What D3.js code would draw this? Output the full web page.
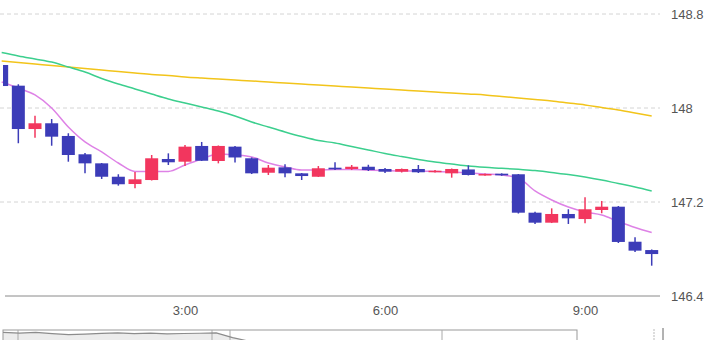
<!DOCTYPE html>
<html>
<head>
<meta charset="utf-8">
<script src="https://cdn.jsdelivr.net/npm/d3@7"></script>
<style>
  body { margin: 0; background: #fff; }
  svg { display: block; font-family: "Liberation Sans", Arial, sans-serif; }
</style>
</head>
<body>
<script>
// Chart dimension
const width = 720;
const height = 340;
const plotRight = 660;
const plotBottom = 296;

// 15-minute candles
const times = ["0:15","0:30","0:45","1:00","1:15","1:30","1:45","2:00","2:15","2:30",
  "2:45","3:00","3:15","3:30","3:45","4:00","4:15","4:30","4:45","5:00",
  "5:15","5:30","5:45","6:00","6:15","6:30","6:45","7:00","7:15","7:30",
  "7:45","8:00","8:15","8:30","8:45","9:00","9:15","9:30","9:45","10:00"];

const opens = [148.366,148.190,147.821,147.870,147.762,147.606,147.529,147.415,147.353,147.387,
  147.566,147.543,147.677,147.549,147.671,147.572,147.449,147.495,147.444,147.415,
  147.492,147.481,147.500,147.481,147.458,147.481,147.455,147.444,147.477,147.427,
  147.441,147.436,147.109,147.024,147.098,147.055,147.132,147.160,146.862,146.791];
const highs = [148.383,148.202,147.934,147.906,147.785,147.617,147.532,147.436,147.455,147.600,
  147.614,147.685,147.711,147.681,147.677,147.579,147.515,147.521,147.447,147.506,
  147.538,147.515,147.517,147.489,147.485,147.515,147.472,147.485,147.512,147.443,
  147.444,147.438,147.117,147.146,147.138,147.240,147.209,147.166,146.900,146.796];
const lows = [148.153,147.700,147.747,147.679,147.543,147.444,147.396,147.339,147.317,147.383,
  147.515,147.506,147.549,147.529,147.536,147.438,147.430,147.410,147.387,147.413,
  147.472,147.472,147.464,147.447,147.451,147.447,147.451,147.407,147.426,147.423,
  147.423,147.102,147.013,147.021,147.013,147.019,147.104,146.851,146.774,146.658];
const closes = [148.187,147.821,147.870,147.756,147.600,147.529,147.415,147.351,147.393,147.572,
  147.538,147.671,147.551,147.677,147.579,147.444,147.492,147.444,147.421,147.487,
  147.478,147.500,147.472,147.458,147.481,147.453,147.466,147.481,147.430,147.438,
  147.427,147.109,147.024,147.098,147.061,147.138,147.160,146.860,146.786,146.757];

// moving averages (short / middle / long)
const maShort = [148.221,148.170,148.111,148.000,147.838,147.711,147.626,147.532,147.460,147.460,
  147.460,147.515,147.566,147.609,147.600,147.583,147.532,147.498,147.472,147.472,
  147.477,147.477,147.472,147.468,147.464,147.464,147.460,147.455,147.447,147.438,
  147.430,147.404,147.294,147.217,147.157,147.115,147.089,147.034,146.983,146.940];
const maMiddle = [148.472,148.443,148.417,148.391,148.349,148.306,148.251,148.204,148.162,148.119,
  148.077,148.043,148.009,147.974,147.932,147.881,147.838,147.796,147.757,147.723,
  147.702,147.672,147.643,147.613,147.587,147.562,147.540,147.523,147.506,147.495,
  147.487,147.478,147.468,147.451,147.434,147.413,147.387,147.357,147.328,147.294];
const maLong = [148.400,148.387,148.374,148.362,148.349,148.336,148.323,148.311,148.298,148.285,
  148.277,148.264,148.255,148.247,148.238,148.230,148.221,148.213,148.204,148.196,
  148.187,148.179,148.170,148.162,148.153,148.145,148.136,148.128,148.119,148.111,
  148.098,148.085,148.072,148.060,148.043,148.026,148.004,147.983,147.957,147.932];

const yTicks = [146.4, 147.2, 148, 148.8];
const xTickLabels = ["3:00", "6:00", "9:00"];

// navigator series (longer history, mostly out of view)
const navValues = [148.30,148.24,148.30,148.20,148.12,148.16,148.22,148.26,148.20,148.24,
  148.18,148.21,148.23,148.26,147.90,147.62,147.40,147.50,147.30,147.55,147.20,147.00];

const parseTime = s => {
    const [h, m] = s.split(":").map(Number);
    return new Date(2024, 0, 1, h, m);
};

const data = times.map((t, i) => ({
    date: parseTime(t),
    open: opens[i], high: highs[i], low: lows[i], close: closes[i],
    maS: maShort[i], maM: maMiddle[i], maL: maLong[i]
}));

const svg = d3.select("body")
    .append("svg")
    .attr("width", width)
    .attr("height", height);

// scales
const x = d3.scaleTime()
    .domain([parseTime("0:00"), parseTime("10:00")])
    .range([-15, 651.7]);

const y = d3.scaleLinear()
    .domain([146.4, 148.8])
    .range([plotBottom, 14]);

const candleW = 13;

svg.append("clipPath")
    .attr("id", "plot-clip")
    .append("rect")
    .attr("x", 0).attr("y", 0)
    .attr("width", plotRight).attr("height", plotBottom);

svg.append("clipPath")
    .attr("id", "candle-clip")
    .append("rect")
    .attr("x", 3).attr("y", 0)
    .attr("width", plotRight - 3).attr("height", plotBottom);

// grid lines
svg.append("g")
    .selectAll("line")
    .data(yTicks.filter(d => d !== 146.4))
    .enter()
    .append("line")
    .attr("x1", 0).attr("x2", plotRight)
    .attr("y1", d => y(d)).attr("y2", d => y(d))
    .attr("stroke", "#d4d4d4")
    .attr("stroke-dasharray", "4,3");

// bottom axis line
svg.append("line")
    .attr("x1", 5).attr("x2", plotRight)
    .attr("y1", y(146.4)).attr("y2", y(146.4))
    .attr("stroke", "#8a8a8a");

// y labels on the right
svg.append("g")
    .selectAll("text")
    .data(yTicks)
    .enter()
    .append("text")
    .attr("x", 671)
    .attr("y", d => y(d))
    .attr("dy", "0.35em")
    .attr("fill", "#555")
    .style("font-size", "13px")
    .text(d => d3.format("")(d));

// x axis labels
const xAxis = d3.axisBottom(x)
    .tickValues(xTickLabels.map(parseTime))
    .tickFormat(d3.timeFormat("%-H:%M"))
    .tickSize(0)
    .tickPadding(10);

const xg = svg.append("g")
    .attr("transform", `translate(0, ${plotBottom})`)
    .call(xAxis);
xg.select(".domain").remove();
xg.selectAll("text")
    .attr("fill", "#555")
    .style("font-size", "13px")
    .style("font-family", "'Liberation Sans', Arial, sans-serif");

const plot = svg.append("g").attr("clip-path", "url(#plot-clip)");

// moving average lines
const maLines = [
    { key: "maL", color: "#f2c41a" },
    { key: "maM", color: "#3ccf8e" },
    { key: "maS", color: "#de82e6" }
];
maLines.forEach(m => {
    plot.append("path")
        .datum(data)
        .attr("fill", "none")
        .attr("stroke", m.color)
        .attr("stroke-width", 1.5)
        .attr("d", d3.line()
            .x(d => x(d.date))
            .y(d => y(d[m.key]))
            .curve(d3.curveMonotoneX));
});

// candles
const upColor = "#f2365e";
const downColor = "#3c3cb8";
const candle = svg.append("g")
    .attr("clip-path", "url(#candle-clip)")
    .selectAll(".candle")
    .data(data)
    .enter()
    .append("g")
    .attr("class", "candle");

candle.append("line")
    .attr("x1", d => x(d.date)).attr("x2", d => x(d.date))
    .attr("y1", d => y(d.high)).attr("y2", d => y(d.low))
    .attr("stroke", d => d.close >= d.open ? upColor : downColor)
    .attr("stroke-width", 1.5);

candle.append("rect")
    .attr("x", d => x(d.date) - candleW / 2)
    .attr("y", d => y(Math.max(d.open, d.close)))
    .attr("width", candleW)
    .attr("height", d => Math.max(1.5, Math.abs(y(d.open) - y(d.close))))
    .attr("fill", d => d.close >= d.open ? upColor : downColor);

// navigator strip at the bottom
const navX = d3.scaleLinear().domain([0, 35]).range([3, 577]);
const navY = d3.scaleLinear().domain([146.8, 148.4]).range([352, 331]);

svg.append("path")
    .datum(navValues)
    .attr("fill", "#ececec")
    .attr("d", d3.area()
        .x((d, i) => navX(i))
        .y0(345)
        .y1(d => navY(d)));

svg.append("rect")
    .attr("x", 3).attr("y", 330)
    .attr("width", 574).attr("height", 20)
    .attr("fill", "none")
    .attr("stroke", "#999");

[18, 212, 230, 442].forEach(px => {
    svg.append("line")
        .attr("x1", px).attr("x2", px)
        .attr("y1", 330).attr("y2", 340)
        .attr("stroke", "#aaa");
});

svg.append("path")
    .datum(navValues)
    .attr("fill", "none")
    .attr("stroke", "#8c8c8c")
    .attr("stroke-width", 1.2)
    .attr("d", d3.line()
        .x((d, i) => navX(i))
        .y(d => navY(d)));

// navigator handles on the right
svg.append("line")
    .attr("x1", 654).attr("x2", 654).attr("y1", 329).attr("y2", 340)
    .attr("stroke", "#bbb").attr("stroke-dasharray", "2,1");
svg.append("line")
    .attr("x1", 663).attr("x2", 663).attr("y1", 328).attr("y2", 340)
    .attr("stroke", "#666");
</script>
</body>
</html>
